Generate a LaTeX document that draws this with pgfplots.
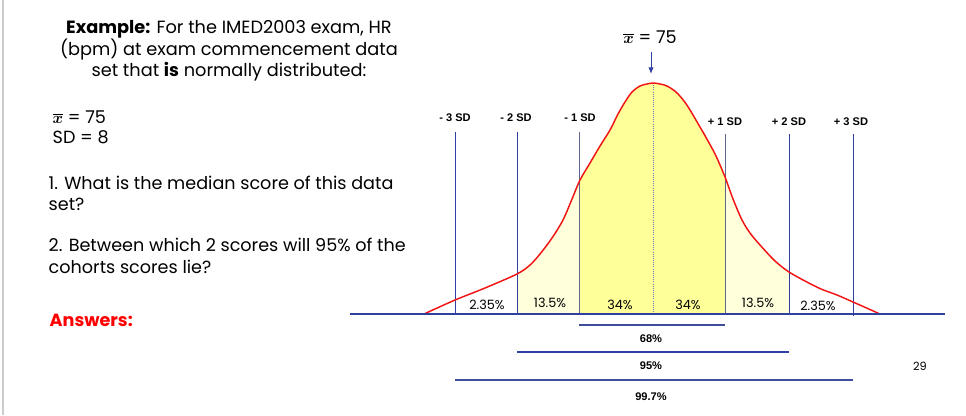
\documentclass[border=0pt]{standalone}
\usepackage{amsmath}
\usepackage{pgfplots}
\pgfplotsset{compat=1.18}
\usetikzlibrary{arrows.meta}
\usepackage{fontspec}
\setmainfont{Poppins}
\newfontfamily\sdfont{Liberation Sans}
\definecolor{navy}{HTML}{3040A0}
\definecolor{curvered}{HTML}{F01414}
\definecolor{yel}{HTML}{FFFF99}
\definecolor{paleyel}{HTML}{FFFFDC}
\begin{document}
\begin{tikzpicture}[x=0.75pt,y=0.75pt]
\useasboundingbox (0,0) rectangle (966,415);
\begin{axis}[
  at={(0,0)}, anchor=south west,
  width=724.5pt, height=311.25pt, scale only axis,
  xmin=0, xmax=966, ymin=0, ymax=415, y dir=reverse,
  hide axis, clip=false,
]
% central region (-1SD to +1SD)
\addplot[draw=none, fill=yel] coordinates {
(579,314)(579,181)(590,163)(600,146)(610,130)(618,114)(625,102)(632,92)(640,86)(647,84)(653,83)(660,84)(667,86)(676,92)(684,101)(690,110)(700,127)(708,141)(716,156)(725,177)(725,314)} -- cycle;
% pale regions
\addplot[draw=none, fill=paleyel] coordinates {
(517,314)(517,274)(530,265)(540,254)(552,238)(563,220)(572,199)(579,181)(579,314)} -- cycle;
\addplot[draw=none, fill=paleyel] coordinates {
(725,314)(725,177)(733,199)(742,220)(750,233)(760,245)(775,261)(789,272)(789,314)} -- cycle;
% SD lines
\addplot[navy, line width=0.65pt] coordinates {(455,132)(455,314)};
\addplot[navy, line width=0.65pt] coordinates {(517,132)(517,314)};
\addplot[gray!60!navy, line width=0.65pt] coordinates {(579,132)(579,314)};
\addplot[gray!60!navy, line width=0.65pt] coordinates {(725,134)(725,314)};
\addplot[navy, line width=0.65pt] coordinates {(789,134)(789,314)};
\addplot[navy, line width=0.65pt] coordinates {(853,134)(853,316)};
% mean dotted line
\addplot[navy!70, densely dotted, line width=0.6pt] coordinates {(653,83)(653,314)};
% curve
\addplot[curvered, line width=1.1pt, smooth, tension=0.5] coordinates {
(424,314)(455,300)(485,288)(517,274)(530,265)(540,254)(552,238)(563,220)(572,199)(580,180)(590,163)(600,146)(610,130)(618,114)(625,102)(632,92)(640,86)(647,84)(653,83)(660,84)(667,86)(676,92)(684,101)(690,110)(700,127)(708,141)(716,156)(725,177)(733,199)(742,220)(750,233)(760,245)(775,261)(789,272)(805,281)(821,289)(837,295)(853,302)(880,314)};
% baseline
\addplot[navy, line width=0.8pt] coordinates {(350,314)(945,314)};
% range lines
\addplot[navy!80!gray, line width=0.8pt] coordinates {(579,325)(725,325)};
\addplot[navy, line width=0.8pt] coordinates {(517,352)(789,352)};
\addplot[navy!80!gray, line width=0.8pt] coordinates {(455,380)(853,380)};
% arrow
\addplot[navy, line width=0.7pt, -{Latex[length=5pt,width=4pt]}] coordinates {(651,52)(651,74)};
\end{axis}
% texts (in pixel coordinates, y from top)
\begin{scope}[shift={(0,415)}, yscale=-1]
\draw[gray!40, line width=1pt] (3,0) -- (3,415);
\node[font=\fontsize{13.3}{16.1}\selectfont, align=center] at (229,51) {\textbf{Example:} For the IMED2003 exam, HR\\(bpm) at exam commencement data\\set that \textbf{is} normally distributed:};
\node[font=\fontsize{13.2}{15}\selectfont, anchor=west] at (48,117) {$\overline{\boldsymbol{x}}$ = 75};
\node[font=\fontsize{13.2}{15}\selectfont, anchor=west] at (48,137) {SD = 8};
\node[font=\fontsize{13.2}{15.8}\selectfont, anchor=north west, align=left] at (44,171) {1. What is the median score of this data\\set?};
\node[font=\fontsize{13.2}{16.6}\selectfont, anchor=north west, align=left] at (44,233) {2. Between which 2 scores will 95\% of the\\cohorts scores lie?};
\node[font=\fontsize{13.2}{15}\selectfont\bfseries, text=red, anchor=west] at (45,320) {Answers:};
\node[font=\fontsize{13.2}{15}\selectfont] at (650,37) {$\overline{\boldsymbol{x}}$ = 75};
\foreach \xx/\yy/\t in {455/118/- 3 SD, 516/118/- 2 SD, 580/118/- 1 SD, 725/122/+ 1 SD, 789/122/+ 2 SD, 851/122/+ 3 SD}
  \node[font=\sdfont\fontsize{8.3}{9}\selectfont\bfseries] at (\xx,\yy) {\t};
\foreach \xx/\yy/\t in {487/305/2.35\%, 550/303/13.5\%, 620/305/34\%, 688/305/34\%, 758/303/13.5\%, 818/306/2.35\%}
  \node[font=\fontsize{9.6}{11}\selectfont] at (\xx,\yy) {\t};
\node[font=\sdfont\fontsize{8.3}{9}\selectfont\bfseries] at (651,339) {68\%};
\node[font=\sdfont\fontsize{8.3}{9}\selectfont\bfseries] at (651,366) {95\%};
\node[font=\sdfont\fontsize{8.3}{9}\selectfont\bfseries] at (651,397) {99.7\%};
\node[font=\fontsize{8.5}{9}\selectfont] at (920,366) {29};
\end{scope}
\end{tikzpicture}
\end{document}
